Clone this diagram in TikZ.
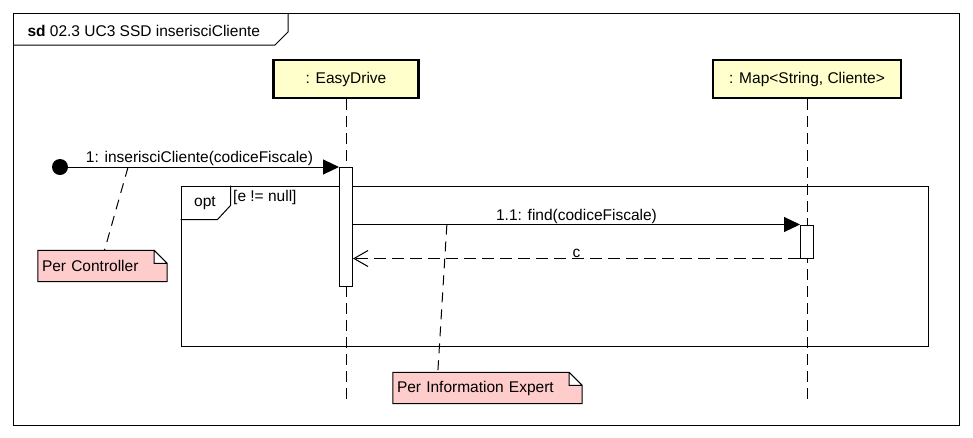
\documentclass[tikz,border=0pt]{standalone}
\usepackage{fontspec}
\setmainfont{Liberation Sans}
\usetikzlibrary{arrows.meta,positioning,calc,backgrounds}
\definecolor{lifeyellow}{RGB}{255,255,204}
\definecolor{notepink}{RGB}{255,204,204}

\begin{document}
\begin{tikzpicture}[x=1pt, y=-1pt,
        every node/.style={font=\fontsize{15.5}{18}\selectfont},
        lifebox/.style={rectangle, draw, line width=2.6pt, fill=lifeyellow,
                        minimum height=38pt, inner sep=0pt},
        act/.style={rectangle, draw, fill=white, line width=1pt,
                    minimum width=13pt, inner sep=0pt},
        fragment/.style={rectangle, draw, line width=1pt, inner sep=0pt},
        framepen/.style={line width=1pt},
        lifeline/.style={line width=1pt, dash pattern=on 11pt off 6pt},
        dot/.style={circle, fill, inner sep=0pt, minimum size=16pt},
        msg/.style={-{Triangle[length=16pt,width=15pt]}, line width=1pt},
        ret/.style={-{Straight Barb[length=14pt,width=16pt]}, line width=1pt,
                    dash pattern=on 12pt off 6pt},
        msglabel/.style={above, inner sep=0.5pt},
        notetxt/.style={rectangle, inner xsep=4pt, inner ysep=0pt,
                        minimum height=31pt, align=left},
        notefold/.style={draw, fill=notepink, line width=1pt},
        noteline/.style={line width=1pt, dash pattern=on 10pt off 7pt}
    ]
        \useasboundingbox (0,0) rectangle (973,437);

        % outer sd frame
        \node[fragment, minimum width=946pt, minimum height=412pt,
              anchor=north west] (sd) at (13,13) {};
        \draw[framepen] (sd.north west) ++(0,32) -- ++(262,0) -- ++(13,-13) -- ++(0,-19);
        \node[anchor=west] (title) at (24,31) {\textbf{sd} 02.3 UC3 SSD inserisciCliente};

        % lifelines
        \node[lifebox, minimum width=145pt] (ed)  at (346,79) {: EasyDrive};
        \node[lifebox, minimum width=188pt] (map) at (807,79) {: Map<String, Cliente>};
        \foreach \l in {ed,map}
            \draw[lifeline] (\l.south) -- (\l.south |- 0,400);

        % opt fragment
        \node[fragment, minimum width=747pt, minimum height=160pt] (opt) at (554.5,266) {};
        \draw[framepen] (opt.north west) ++(0,34) -- ++(37,0) -- ++(13,-14) -- ++(0,-20);
        \node (optlbl) at (205,203) {opt};
        \node[anchor=west, inner sep=1pt] (guard) at (232,197) {[e != null]};

        % activations
        \node[act, minimum height=119pt] (edact)  at (ed.south |- 0,226.5) {};
        \node[act, minimum height=33pt]  (mapact) at (map.south |- 0,241.5) {};

        % messages
        \node[dot] (found) at (60,167) {};
        \draw[msg] (found.center) -- coordinate[pos=0.244] (m1)
              node[msglabel, midway] {1: inserisciCliente(codiceFiscale)} (found -| edact.west);
        \draw[msg] (edact.east |- mapact.north) -- coordinate[pos=0.21] (m2)
              node[msglabel, midway] {1.1: find(codiceFiscale)} (mapact.north west);
        \draw[ret] (mapact.south west) -- node[msglabel, midway] {c} (edact.east |- mapact.south);

        % notes
        \node[notetxt, text width=121pt] (ctrlnote) at (102.5,266) {Per Controller};
        \node[notetxt, text width=181pt] (infonote) at (487.5,388) {Per Information Expert};
        \begin{scope}[on background layer]
            \foreach \n in {ctrlnote,infonote}
                \draw[notefold] (\n.north west) -- ([xshift=-13pt]\n.north east)
                      -- ([yshift=-13pt]\n.north east) -- (\n.south east) -- (\n.south west) -- cycle
                      ([xshift=-13pt]\n.north east) |- ([yshift=-13pt]\n.north east);
        \end{scope}
        \draw[noteline] (m1) -- ([xshift=2pt]ctrlnote.north);
        \draw[noteline] (m2) -- ([xshift=45pt]infonote.north west);
    \end{tikzpicture}
\end{document}
